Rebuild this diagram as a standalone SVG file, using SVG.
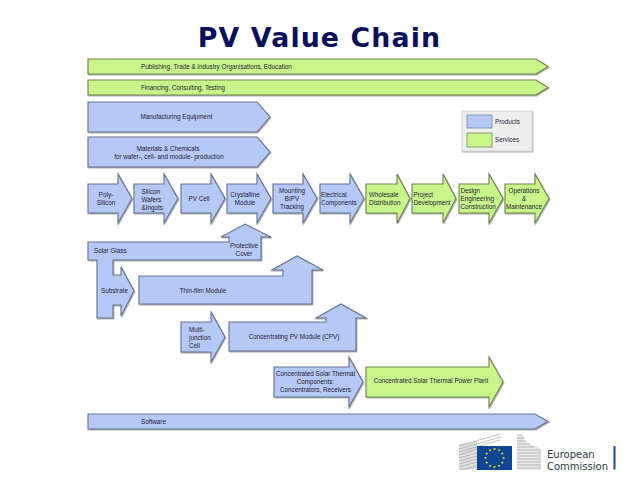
<svg xmlns="http://www.w3.org/2000/svg" width="638" height="479" viewBox="0 0 638 479">
<style>
text{font-family:"Liberation Sans",Arial,sans-serif;font-size:6.3px;fill:#1c2233;text-anchor:middle}
.p,.s{stroke-width:1.1;stroke-linejoin:miter;filter:url(#sh)}
.p{fill:#b5c8f7;stroke:#66738f}
.s{fill:#c8f68a;stroke:#70834c}
.l{text-anchor:start}
.title{font-family:"DejaVu Sans",Verdana,sans-serif;font-size:26.800px;font-weight:700;fill:#0a0f5c;letter-spacing:1.1px}
.wm{font-family:"DejaVu Sans",Verdana,sans-serif;font-size:10px;fill:#2f3a46;text-anchor:start}
.b{fill:none;stroke:#a8a8a8;stroke-width:.7}
</style>
<defs>
<filter id="sh" x="-10%" y="-10%" width="125%" height="130%"><feDropShadow dx=".8" dy="1" stdDeviation=".7" flood-color="#666" flood-opacity=".55"/></filter>
<symbol id="star" overflow="visible"><path d="M0-1.5.45-.5 1.5-.45.7.2 1 1.2 0 .65-1 1.2-.7.2-1.5-.45-.45-.5Z" fill="#f5d90a"/></symbol>
</defs>
<rect width="638" height="479" fill="#fff"/>
<text id="title" class="title" x="319.500" y="47">PV Value Chain</text>
<g id="connectors"/>
<g id="publishing"><polygon class="s" points="88,59 536,59 548,66.5 536,74 88,74"/><text class="l" x="141" y="68.500">Publishing, Trade &amp; Industry Organisations, Education</text></g>
<g id="financing"><polygon class="s" points="88,80 536,80 548,87.5 536,95 88,95"/><text class="l" x="141" y="89.500">Financing, Consulting, Testing</text></g>
<g id="manufacturing"><polygon class="p" points="88,102 257,102 270,117 257,132 88,132"/><text x="176.500" y="119">Manufacturing Equipment</text></g>
<g id="materials"><polygon class="p" points="88,137 257,137 270,152 257,167 88,167"/><text x="168" y="150.500">Materials &amp; Chemicals</text><text x="169" y="158.500">for wafer-, cell- and module- production</text></g>
<g id="legend"><rect x="462" y="111" width="70" height="40" fill="#eee" stroke="#d5d5d5" filter="url(#sh)"/><rect x="467" y="115" width="25" height="13" fill="#b5c8f7" stroke="#8b9ab8"/><rect x="467" y="133" width="25" height="14" fill="#c8f68a" stroke="#8ba35f"/><text class="l" x="495" y="123.500">Products</text><text class="l" x="495" y="141.500">Services</text></g>
<g id="polysilicon"><polygon class="p" points="88,184 118,184 118,174 132,198.500 118,223 118,213 88,213"/><text x="106" y="197">Poly-</text><text x="106" y="205">Silicon</text></g>
<g id="wafers"><polygon class="p" points="134,184 164,184 164,174 178,198.500 164,223 164,213 134,213"/><text class="l" x="141.500" y="194">Silicon</text><text class="l" x="141.500" y="202">Wafers</text><text class="l" x="141.500" y="209.500">&amp;Ingots</text></g>
<g id="pvcell"><polygon class="p" points="181,184 211,184 211,174 225,198.500 211,223 211,213 181,213"/><text x="199" y="201">PV Cell</text></g>
<g id="crystalline"><polygon class="p" points="227,184 257,184 257,174 271,198.500 257,223 257,213 227,213"/><text x="245" y="197">Crystalline</text><text x="245" y="205">Module</text></g>
<g id="mounting"><polygon class="p" points="273,184 303,184 303,174 317,198.500 303,223 303,213 273,213"/><text x="292" y="193">Mounting</text><text x="292" y="201">BIPV</text><text x="292" y="209">Tracking</text></g>
<g id="electrical"><polygon class="p" points="320,184 350,184 350,174 364,198.500 350,223 350,213 320,213"/><text class="l" x="321" y="197">Electrical</text><text class="l" x="321" y="204.500">Components</text></g>
<g id="wholesale"><polygon class="s" points="366,184 397,184 397,174 410,198.500 397,223 397,213 366,213"/><text class="l" x="369" y="197">Wholesale</text><text class="l" x="369" y="204.500">Distribution</text></g>
<g id="project"><polygon class="s" points="412,184 443,184 443,174 456,198.500 443,223 443,213 412,213"/><text class="l" x="413.500" y="197">Project</text><text class="l" x="413.500" y="204.500">Development</text></g>
<g id="design"><polygon class="s" points="459,184 489,184 489,174 503,198.500 489,223 489,213 459,213"/><text class="l" x="460.500" y="193">Design</text><text class="l" x="460.500" y="201">Engineering</text><text class="l" x="460.500" y="209">Construction</text></g>
<g id="operations"><polygon class="s" points="505,184 535,184 535,174 549,198.500 535,223 535,213 505,213"/><text x="524" y="193">Operations</text><text x="524" y="201">&amp;</text><text x="524" y="208.500">Maintenance</text></g>
<g id="solarglass"><polygon class="p" points="88,242 229,242 229,237 221,237 245,224 271,237 261,237 261,260 113,260 113,275 121,275 121,267 134,291 121,316 121,305 113,305 113,318 97,318 97,260 88,260"/><text class="l" x="94" y="253">Solar Glass</text><text x="244" y="247.500">Protective</text><text x="244" y="255.500">Cover</text><text x="114.500" y="293">Substrate</text></g>
<g id="thinfilm"><polygon class="p" points="139,276 283,276 283,270 272,270 297,256 323,270 312,270 312,304 139,304"/><text x="203" y="293">Thin-film Module</text></g>
<g id="multijunction"><polygon class="p" points="181,322 211,322 211,312 225,337 211,362 211,352 181,352"/><text class="l" x="189" y="332">Multi-</text><text class="l" x="189" y="340">junction</text><text class="l" x="189" y="347.500">Cell</text></g>
<g id="cpv"><polygon class="p" points="229,322 326,322 326,318 316,318 341,304 366,318 356,318 356,351 229,351"/><text x="294" y="339">Concentrating PV Module (CPV)</text></g>
<g id="cstcomponents"><polygon class="p" points="274,367 349,367 349,357 363,382 349,407 349,397 274,397"/><text x="315.500" y="375.500">Concentrated Solar Thermal</text><text x="315.500" y="383.500">Components:</text><text x="315.500" y="391.500">Concentrators, Receivers</text></g>
<g id="cstplant"><polygon class="s" points="366,367 489,367 489,357 503,382 489,407 489,397 366,397"/><text x="431" y="383">Concentrated Solar Thermal Power Plant</text></g>
<g id="software"><polygon class="p" points="88,414 535,414 548,421.500 535,429 88,429"/><text x="153.500" y="424">Software</text></g>
<g id="eu-logo">
<polygon points="459,444 477,441 477,470 459,470" fill="#c8c8c8" opacity=".6"/>
<path class="b" d="M459 446 500 434M459 449 501 437M459 452 500 440M459 455 477 449M459 458 477 453M459 461 477 456M459 464 477 459M459 467 477 462M459 470 477 466"/>
<rect x="477" y="446" width="35" height="24" fill="#0f4595"/>
<g transform="translate(494.500 458)"><use href="#star" x="0" y="-9"/><use href="#star" x="4.500" y="-7.800"/><use href="#star" x="7.800" y="-4.500"/><use href="#star" x="9" y="0"/><use href="#star" x="7.800" y="4.500"/><use href="#star" x="4.500" y="7.800"/><use href="#star" x="0" y="9"/><use href="#star" x="-4.500" y="7.800"/><use href="#star" x="-7.800" y="4.500"/><use href="#star" x="-9" y="0"/><use href="#star" x="-7.800" y="-4.500"/><use href="#star" x="-4.500" y="-7.800"/></g>
<polygon points="517,435 522,435 526,442 541,449 541,470 517,470" fill="#cfcfcf" opacity=".5"/>
<path class="b" d="M517 435H522M517 438H524M517 441H526M517 444H530M517 447H534M517 450H541M517 453H541M517 456H541M517 459H541M517 462H541M517 465H541M517 468H541"/>
<text class="wm" x="547" y="458">European</text><text class="wm" x="547" y="469.500">Commission</text>
<rect x="613.500" y="446" width="2" height="23.500" fill="#1b4f8f"/>
</g>
</svg>
